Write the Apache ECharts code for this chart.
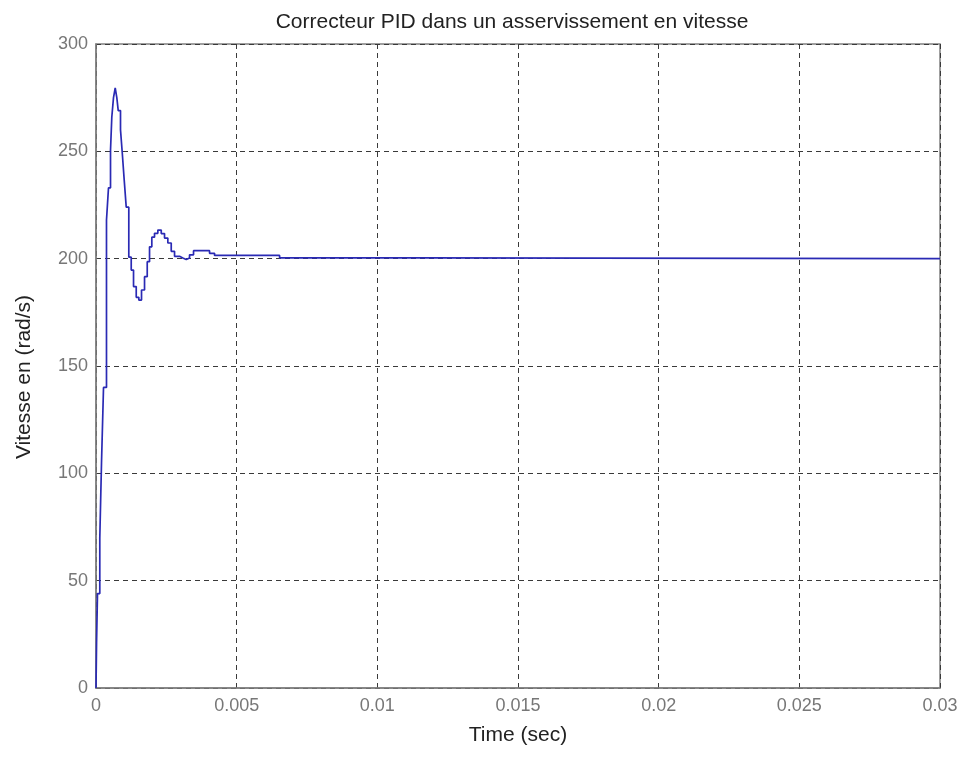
<!DOCTYPE html>
<html>
<head>
<meta charset="utf-8">
<script src="https://cdn.jsdelivr.net/npm/echarts@6/dist/echarts.min.js"></script>
<style>
  html, body { margin: 0; padding: 0; background: #fff; }
  #chart { width: 969px; height: 758px; }
</style>
</head>
<body>
<div id="chart"></div>
<script>
// Sampled speed response (time in s, speed in rad/s), held between samples
const timeSec = [
  0, 0.00002, 0.000053, 0.000135, 0.000196, 0.000267, 0.000373, 0.000444,
  0.000516, 0.000562, 0.000622, 0.000683, 0.00074, 0.00079, 0.000871,
  0.000932, 0.001003, 0.001074, 0.001166, 0.001252, 0.001334, 0.00143,
  0.001522, 0.001618, 0.001725, 0.001821, 0.001903, 0.001984, 0.00208,
  0.002198, 0.002319, 0.002436, 0.002553, 0.002674, 0.002792, 0.002969,
  0.003087, 0.003208, 0.003325, 0.003467, 0.004036, 0.004214, 0.006526,
  0.011565, 0.03
];
const speed = [
  0, 21, 44, 70, 105, 140, 218, 233,
  250.6, 266, 275, 279.5, 275, 269, 260,
  249.6, 236.6, 224, 200.7, 194.7, 187, 182,
  180.7, 185.4, 191.6, 198.6, 205.5, 210, 211.8,
  213.3, 211.7, 209.6, 207.3, 203.4, 201.1, 200.3,
  199.6, 200.3, 201.8, 203.7, 202.5, 201.5, 200.4,
  200, 200
];

const xTickLabels = ['0', '0.005', '0.01', '0.015', '0.02', '0.025', '0.03'];
const yTickLabels = ['0', '50', '100', '150', '200', '250', '300'];

const titleText = 'Correcteur PID dans un asservissement en vitesse';
const xName = 'Time (sec)';
const yName = 'Vitesse en (rad/s)';

const chart = echarts.init(document.getElementById('chart'), null, { renderer: 'canvas' });

const fontFamily = '"Liberation Sans", Arial, sans-serif';
const gridLine = { show: true, lineStyle: { color: '#3a3a3a', type: [5, 4], width: 1 } };

chart.setOption({
  animation: false,
  backgroundColor: '#ffffff',
  title: {
    text: titleText,
    left: 507,
    top: 7,
    textAlign: 'center',
    textStyle: { fontFamily, fontSize: 21, fontWeight: 'normal', color: '#222' }
  },
  grid: {
    left: 96, right: 29, top: 44, bottom: 70,
    show: true, borderColor: '#808080', borderWidth: 1.5,
    containLabel: false
  },
  xAxis: {
    type: 'value',
    min: 0, max: 0.03, interval: 0.005,
    name: xName,
    nameLocation: 'middle',
    nameGap: 37,
    nameTextStyle: { fontFamily, fontSize: 21, color: '#222' },
    axisLine: { show: true, lineStyle: { color: '#808080', width: 1.5 } },
    axisTick: { show: false },
    axisLabel: {
      fontFamily, fontSize: 18, color: '#777', margin: 9,
      formatter: (v) => xTickLabels[Math.round(v / 0.005)]
    },
    splitLine: gridLine
  },
  yAxis: {
    type: 'value',
    min: 0, max: 300, interval: 50,
    name: yName,
    nameLocation: 'middle',
    nameGap: 61,
    nameRotate: 90,
    nameTextStyle: { fontFamily, fontSize: 21, color: '#222', padding: [0, 22, 0, 0] },
    axisLine: { show: true, lineStyle: { color: '#808080', width: 1.5 } },
    axisTick: { show: false },
    axisLabel: {
      fontFamily, fontSize: 18, color: '#777', margin: 8,
      formatter: (v) => yTickLabels[Math.round(v / 50)]
    },
    splitLine: gridLine
  },
  series: [{
    type: 'line',
    step: 'end',
    showSymbol: false,
    data: timeSec.map((t, i) => [t, speed[i]]),
    lineStyle: { color: '#2a2ab4', width: 1.7 },
    z: 3
  }]
});
</script>
</body>
</html>
